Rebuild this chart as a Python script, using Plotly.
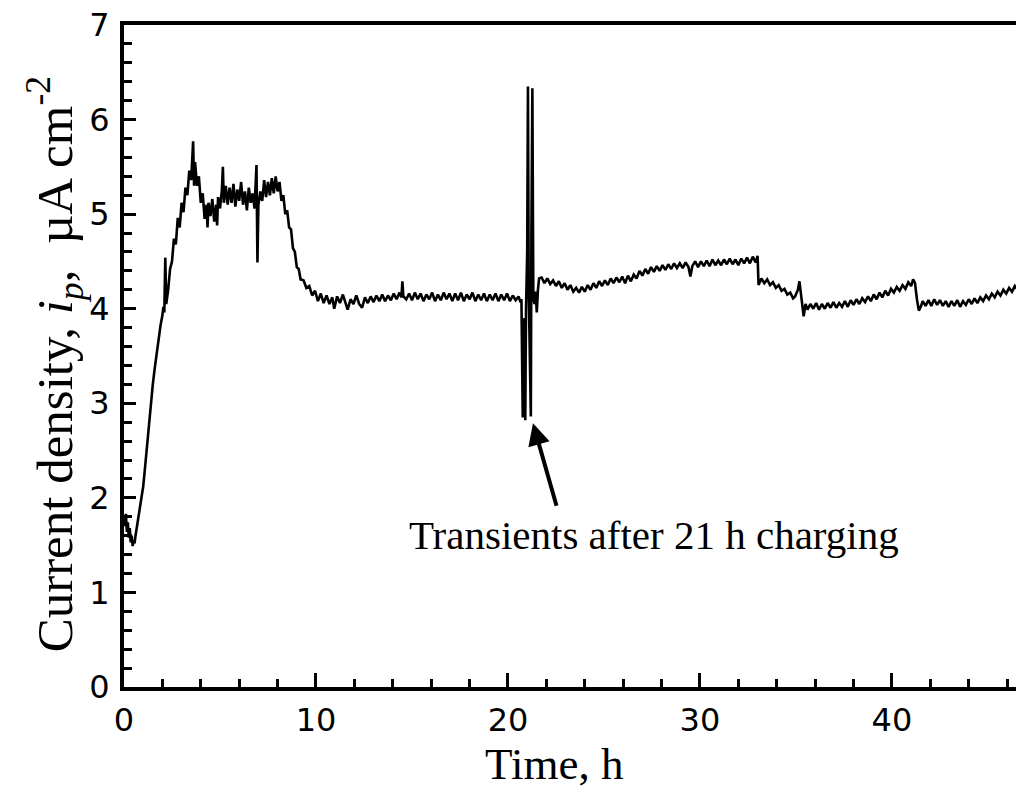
import plotly.graph_objects as go

# ---- data (time in h, current density in uA/cm^2) ----
t_initial = [0.0, 0.05, 0.1, 0.15, 0.2, 0.25, 0.3, 0.35, 0.4, 0.45, 0.5, 0.55, 0.6, 0.7, 0.8, 0.9,
             1.0, 1.1, 1.2, 1.3, 1.4, 1.5, 1.6, 1.7, 1.8, 1.9, 2.0, 2.05, 2.1, 2.15, 2.2]
i_initial = [1.80, 1.70, 1.83, 1.64, 1.74, 1.58, 1.68, 1.53, 1.60, 1.49, 1.55, 1.52, 1.60, 1.73, 1.86, 1.98,
             2.12, 2.33, 2.56, 2.78, 3.00, 3.20, 3.37, 3.53, 3.68, 3.82, 3.93, 4.02, 3.96, 4.54, 4.05]

t_peak = [2.3, 2.4, 2.5, 2.6, 2.7, 2.8, 2.9, 3.0, 3.1, 3.2, 3.3, 3.4, 3.5, 3.6, 3.65, 3.7, 3.8, 3.9,
          4.0, 4.1, 4.2, 4.3, 4.35, 4.4, 4.5, 4.6, 4.7, 4.8, 4.85, 4.9, 5.0, 5.1, 5.15, 5.2, 5.3,
          5.4, 5.5, 5.6, 5.7, 5.8, 5.9, 6.0, 6.1, 6.2, 6.3, 6.4, 6.5, 6.6, 6.7, 6.8, 6.9, 6.95,
          7.0, 7.1, 7.2, 7.3, 7.4, 7.5, 7.6, 7.7, 7.8, 7.9, 8.0, 8.1, 8.2, 8.3, 8.4, 8.5, 8.6,
          8.7, 8.8, 8.9, 9.0, 9.1, 9.2]
i_peak = [4.20, 4.42, 4.50, 4.74, 4.68, 4.96, 4.86, 5.12, 5.02, 5.28, 5.20, 5.46, 5.36, 5.77, 5.30, 5.55, 5.30, 5.40,
          5.12, 5.22, 4.95, 5.10, 4.86, 5.12, 4.98, 5.16, 4.92, 5.10, 4.88, 5.18, 5.06, 5.26, 5.50, 5.12, 5.30,
          5.10, 5.28, 5.12, 5.32, 5.08, 5.26, 5.14, 5.34, 5.10, 5.24, 5.04, 5.28, 5.12, 5.22, 5.06, 5.52, 4.49,
          5.10, 5.24, 5.14, 5.36, 5.18, 5.34, 5.20, 5.38, 5.22, 5.40, 5.24, 5.34, 5.14, 5.20, 5.00, 5.04, 4.86,
          4.84, 4.64, 4.60, 4.44, 4.42, 4.31]

t_plateau = [9.35, 9.5, 9.65, 9.8, 9.95, 10.1, 10.25, 10.4, 10.55, 10.7, 10.85, 10.95, 11.1, 11.25, 11.4,
             11.55, 11.65, 11.8, 11.95, 12.1, 12.25, 12.4, 12.55, 12.7, 12.85, 13.0, 13.15, 13.3, 13.45,
             13.6, 13.75, 13.9, 14.05, 14.2, 14.35, 14.45, 14.5, 14.55, 14.7, 14.85, 15.0, 15.15, 15.3,
             15.45, 15.6, 15.75, 15.9, 16.05, 16.2, 16.35, 16.5, 16.65, 16.8, 16.95, 17.1, 17.25, 17.4,
             17.55, 17.7, 17.85, 18.0, 18.15, 18.3, 18.45, 18.6, 18.75, 18.9, 19.05, 19.2, 19.35, 19.5,
             19.65, 19.8, 19.95, 20.1, 20.25, 20.4, 20.55, 20.65]
i_plateau = [4.30, 4.22, 4.24, 4.14, 4.19, 4.08, 4.16, 4.06, 4.14, 4.05, 4.12, 4.00, 4.13, 4.06, 4.15,
             4.04, 3.99, 4.10, 4.05, 4.14, 4.05, 4.01, 4.12, 4.06, 4.13, 4.07, 4.14, 4.08, 4.15,
             4.08, 4.14, 4.09, 4.16, 4.10, 4.17, 4.12, 4.29, 4.13, 4.10, 4.16, 4.09, 4.17, 4.10,
             4.16, 4.08, 4.15, 4.10, 4.17, 4.08, 4.15, 4.09, 4.17, 4.10, 4.16, 4.08, 4.16, 4.09,
             4.17, 4.08, 4.15, 4.10, 4.17, 4.08, 4.15, 4.09, 4.16, 4.08, 4.15, 4.09, 4.16, 4.08,
             4.15, 4.09, 4.16, 4.08, 4.14, 4.09, 4.13, 4.07]

t_transient = [20.7, 20.74, 20.77, 20.8, 20.86, 20.9, 20.94, 21.0, 21.04, 21.08, 21.14, 21.19, 21.22,
               21.27, 21.32, 21.38, 21.44, 21.5, 21.56, 21.62]
i_transient = [4.10, 3.60, 2.85, 3.90, 3.70, 2.82, 4.00, 4.60, 6.35, 4.20, 3.40, 2.86, 4.80,
               6.33, 4.10, 4.05, 4.18, 3.96, 4.20, 4.32]

t_recovery = [21.75, 21.9, 22.05, 22.2, 22.35, 22.5, 22.65, 22.8, 22.95, 23.1, 23.25, 23.4, 23.55, 23.7,
              23.85, 24.0, 24.15, 24.3, 24.45, 24.6, 24.75, 24.9, 25.05, 25.2, 25.35, 25.5, 25.65, 25.8,
              25.95, 26.1, 26.25, 26.4, 26.55, 26.7, 26.85, 27.0, 27.15, 27.3, 27.45, 27.6, 27.75, 27.9,
              28.05, 28.2, 28.35, 28.5, 28.65, 28.8, 28.95, 29.1, 29.25, 29.4, 29.5, 29.6, 29.75, 29.9,
              30.05, 30.2, 30.35, 30.5, 30.65, 30.8, 30.95, 31.1, 31.25, 31.4, 31.55, 31.7, 31.85, 32.0,
              32.15, 32.3, 32.45, 32.6, 32.75, 32.9, 33.0]
i_recovery = [4.33, 4.27, 4.32, 4.26, 4.30, 4.24, 4.29, 4.22, 4.27, 4.20, 4.25, 4.18, 4.22, 4.17,
              4.23, 4.18, 4.25, 4.20, 4.27, 4.22, 4.29, 4.24, 4.30, 4.25, 4.32, 4.27, 4.33, 4.28,
              4.34, 4.27, 4.35, 4.29, 4.36, 4.32, 4.40, 4.35, 4.42, 4.37, 4.44, 4.39, 4.45, 4.40,
              4.46, 4.41, 4.47, 4.42, 4.48, 4.43, 4.48, 4.43, 4.49, 4.44, 4.34, 4.45, 4.50, 4.44,
              4.50, 4.45, 4.51, 4.45, 4.52, 4.46, 4.51, 4.46, 4.52, 4.47, 4.53, 4.47, 4.52, 4.46,
              4.53, 4.48, 4.54, 4.48, 4.55, 4.49, 4.56]

t_decline = [33.05, 33.2, 33.35, 33.5, 33.65, 33.8, 33.95, 34.1, 34.25, 34.4, 34.55, 34.7, 34.85, 34.95,
             35.1, 35.18, 35.3, 35.4, 35.5]
i_decline = [4.25, 4.32, 4.27, 4.31, 4.25, 4.28, 4.22, 4.25, 4.19, 4.21, 4.15, 4.17, 4.11, 4.13,
             4.20, 4.29, 4.05, 3.92, 4.05]

t_low = [35.6, 35.75, 35.9, 36.05, 36.2, 36.35, 36.5, 36.65, 36.8, 36.95, 37.1, 37.25, 37.4, 37.55, 37.7,
         37.85, 38.0, 38.15, 38.3, 38.45, 38.6, 38.75, 38.9, 39.05, 39.2, 39.35, 39.5, 39.65, 39.8,
         39.95, 40.1, 40.25, 40.4, 40.55, 40.7, 40.85, 41.0, 41.1, 41.2, 41.3, 41.4, 41.5, 41.6]
i_low = [3.99, 4.05, 4.00, 4.06, 3.99, 4.05, 4.00, 4.06, 4.01, 4.07, 4.01, 4.06, 4.02, 4.08, 4.02,
         4.09, 4.04, 4.10, 4.05, 4.11, 4.07, 4.13, 4.08, 4.15, 4.10, 4.17, 4.12, 4.19, 4.14,
         4.21, 4.17, 4.23, 4.19, 4.25, 4.21, 4.28, 4.24, 4.31, 4.27, 4.10, 3.98, 4.02, 4.08]

t_late = [41.75, 41.9, 42.05, 42.2, 42.35, 42.5, 42.65, 42.8, 42.95, 43.1, 43.25, 43.4, 43.55, 43.7,
          43.85, 44.0, 44.15, 44.3, 44.45, 44.6, 44.75, 44.9, 45.05, 45.2, 45.35, 45.5, 45.65, 45.8,
          45.95, 46.1, 46.25, 46.4, 46.55, 46.7]
i_late = [4.03, 4.09, 4.03, 4.10, 4.04, 4.09, 4.03, 4.08, 4.02, 4.08, 4.03, 4.09, 4.02, 4.08,
          4.04, 4.10, 4.05, 4.11, 4.06, 4.12, 4.08, 4.14, 4.10, 4.16, 4.12, 4.18, 4.14, 4.20,
          4.16, 4.22, 4.18, 4.24, 4.20, 4.25]

x_tick_vals = [0, 10, 20, 30, 40]
y_tick_vals = [0, 1, 2, 3, 4, 5, 6, 7]

time_h = (t_initial + t_peak + t_plateau + t_transient + t_recovery + t_decline + t_low + t_late)
current = (i_initial + i_peak + i_plateau + i_transient + i_recovery + i_decline + i_low + i_late)

SERIF = "Liberation Serif, Times New Roman, serif"
SANS = "DejaVu Sans, Arial, sans-serif"

fig = go.Figure()
fig.add_trace(go.Scatter(x=time_h, y=current, mode="lines",
                         line=dict(color="black", width=2.6), showlegend=False))

fig.update_layout(
    width=1016, height=789,
    margin=dict(l=124, r=0, t=25, b=102),
    paper_bgcolor="white", plot_bgcolor="white",
    xaxis=dict(range=[0, 46.46], tickvals=x_tick_vals, ticks="inside", ticklen=14, tickwidth=3,
               tickcolor="black", showline=True, linewidth=4, linecolor="black", mirror=True,
               showgrid=False, zeroline=False, ticklabelstandoff=2,
               tickfont=dict(family=SANS, size=32, color="black"),
               minor=dict(dtick=2, ticks="inside", ticklen=8, tickwidth=3, tickcolor="black", showgrid=False)),
    yaxis=dict(range=[0, 7], tickvals=y_tick_vals, ticks="inside", ticklen=12, tickwidth=3,
               tickcolor="black", showline=True, linewidth=4, linecolor="black",
               showgrid=False, zeroline=False, ticklabelstandoff=4,
               tickfont=dict(family=SANS, size=32, color="black"),
               minor=dict(dtick=0.2, ticks="inside", ticklen=8, tickwidth=3, tickcolor="black", showgrid=False)),
)

fig.add_annotation(text="Time, h", xref="paper", yref="paper", x=0.482, y=-0.117,
                   xanchor="center", yanchor="middle", showarrow=False,
                   font=dict(family=SERIF, size=45, color="black"))
fig.add_annotation(text="Current density, <i>i</i><sub><i>p</i></sub>,\u00a0\u00a0\u00b5A cm<sup>-2</sup>",
                   xref="paper", yref="paper", x=-0.078, y=0.488, textangle=-90,
                   xanchor="center", yanchor="middle", showarrow=False,
                   font=dict(family=SERIF, size=51, color="black"))
fig.add_annotation(text="Transients after 21 h charging", xref="x", yref="y", x=27.6, y=1.61,
                   xanchor="center", yanchor="middle", showarrow=False,
                   font=dict(family=SERIF, size=41, color="black"))
fig.add_annotation(text="", xref="x", yref="y", x=21.3, y=2.79, axref="x", ayref="y", ax=22.55, ay=1.90,
                   showarrow=True, arrowhead=2, arrowsize=1.1, arrowwidth=4, arrowcolor="black")

fig.write_html("out.html")
